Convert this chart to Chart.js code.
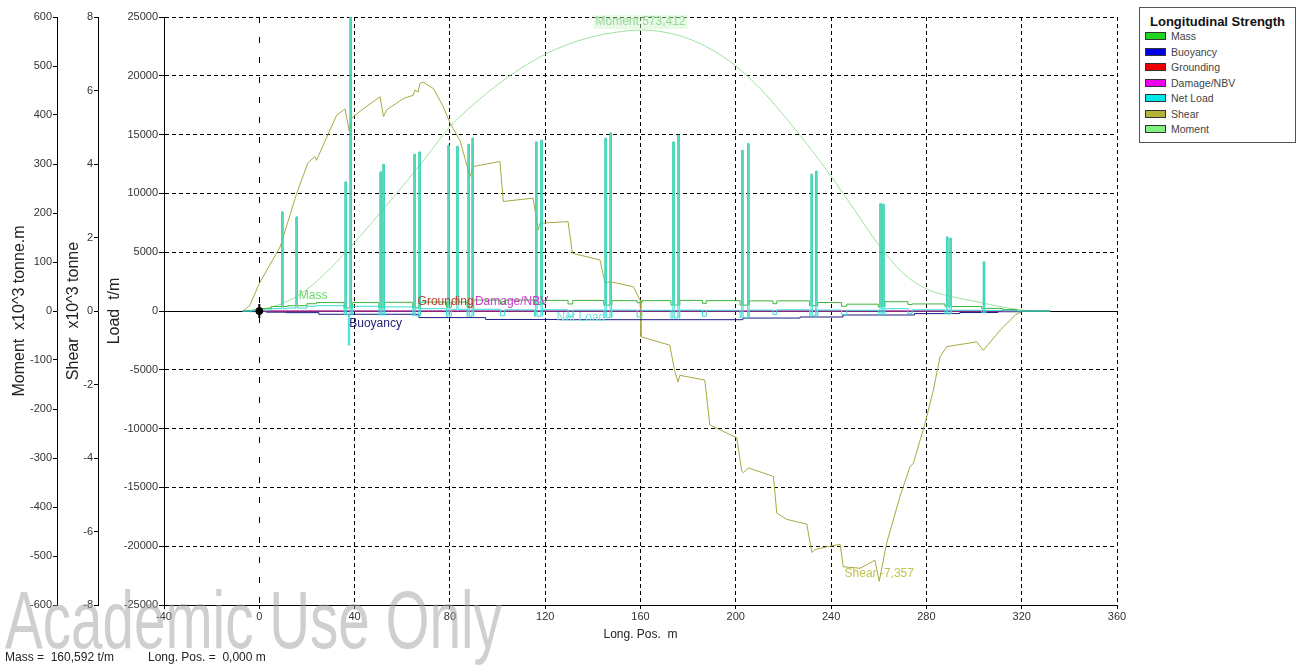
<!DOCTYPE html>
<html>
<head>
<meta charset="utf-8">
<title>Longitudinal Strength</title>
<script src="https://cdn.jsdelivr.net/npm/chart.js@4.4.1/dist/chart.umd.min.js"></script>
<style>
  body { margin: 0; background: #fff; overflow: hidden; }
  #wrap { position: relative; width: 1302px; height: 666px; font-family: "Liberation Sans", Arial, sans-serif; }
  #chart { position: absolute; left: 0; top: 0; }
  #legend { position: absolute; left: 1139px; top: 7px; width: 157px; height: 136px; border: 1px solid #555; background: #fff; box-sizing: border-box; }
  #legend .ttl { position: absolute; left: 10px; top: 6px; font-size: 13px; line-height: 15px; font-weight: bold; color: #111; white-space: nowrap; }
  #legend .sw { position: absolute; left: 5px; width: 19px; height: 6px; border: 1px solid #333; }
  #legend .lb { position: absolute; left: 31px; font-size: 10.5px; line-height: 12px; color: #444; white-space: nowrap; }
  .status { position: absolute; top: 650px; font-size: 12px; line-height: 14px; color: #222; white-space: pre; }
  #stamp { position: absolute; left: 5px; top: 579px; font-size: 82px; line-height: 82px; color: rgba(160,160,160,0.5); white-space: nowrap; transform: scaleX(0.69); transform-origin: 0 0; pointer-events: none; }
</style>
</head>
<body>
<div id="wrap">
  <canvas id="chart" width="1302" height="666"></canvas>
  <div id="legend"><div class="ttl">Longitudinal Strength</div></div>
  <div class="status" style="left:5px">Mass =  160,592 t/m</div>
  <div class="status" style="left:148px">Long. Pos. =  0,000 m</div>
  <div id="stamp">Academic Use Only</div>
</div>
<script>
const FONT = '"Liberation Sans", Arial, sans-serif';

// axis ticks
const posTicks = [-40, 0, 40, 80, 120, 160, 200, 240, 280, 320, 360];
const loadTicks = [-25000, -20000, -15000, -10000, -5000, 0, 5000, 10000, 15000, 20000, 25000];
const shearTicks = [-8, -6, -4, -2, 0, 2, 4, 6, 8];
const momentTicks = [-600, -500, -400, -300, -200, -100, 0, 100, 200, 300, 400, 500, 600];

// distributed load, step breaks along the hull (m); value holds until the next break
const stepX = [-7, -3, 1, 5, 12, 20, 24, 35.6, 39.2, 50.2, 52.6, 64.4, 67.6, 78.6, 80.6, 87.2, 90,
  101.2, 103, 115.5, 118.8, 129.6, 131.6, 144.6, 148, 158.6, 160.6, 172.8, 176.5, 186, 187.6,
  201.8, 205.6, 215.6, 217.2, 231, 234.4, 244.4, 246.6, 259.8, 262.6, 272.2, 274, 287.8, 290.6,
  303.2, 305, 312, 318, 332];
const massY = [0, 80, 200, 380, 450, 620, 720, 250, 720, 250, 740, 250, 760, 300, 760, 300, 930,
  600, 930, 550, 900, 600, 900, 500, 880, 700, 880, 500, 900, 650, 880,
  500, 860, 620, 860, 450, 720, 400, 580, 350, 790, 560, 600, 400, 380,
  200, 220, 120, 0, 0];
const netY = [0, 20, 80, 200, 250, 400, 450, -300, 400, -350, 350, -400, 200, -450, 150, -450, 150,
  -400, 100, -450, 100, -500, 80, -550, 80, -500, 60, -600, 80, -450, 60,
  -550, 80, -300, 100, -400, 80, -300, 60, -300, 200, -200, 100, -250, 60,
  -150, 40, 20, 0, 0];

// point loads (m, t/m)
const spikeX = [9.4, 15.4, 36.0, 38.1, 50.7, 51.9, 64.9, 67.0, 79.2, 82.9, 87.6, 89.3, 116.0, 118.2,
  145.1, 147.2, 173.6, 175.7, 202.5, 205.0, 231.6, 233.5, 260.5, 261.7, 288.5, 289.9, 303.9];
const spikeY = [8420, 7990, 10970, 25000, 11820, 12470, 13320, 13520, 14090, 14000, 14170, 14690,
  14370, 14510, 14690, 15140, 14370, 14940, 13660, 14230, 11620, 11880, 9130, 9070, 6290, 6180, 4170];
const netDipX = [37.4];
const netDipY = [-2900];

// buoyancy steps
const buoyX = [-7, -4, 3, 11, 25, 67, 95, 126, 203, 227, 245, 275, 294, 310, 320, 332];
const buoyY = [0, -50, -100, -140, -280, -560, -720, -740, -600, -510, -340, -220, -130, -60, 0, 0];

// grounding and damage/NBV lie on zero
const zeroX = [0, 318];
const zeroY = [0, 0];

// shear force, x10^3 tonne
const shearX = [-6.8, -4, 0, 8.7, 15.7, 20.4, 23.3, 24, 28.3, 32.5, 36.0, 36.4, 37.8, 38.8, 43.0,
  50.7, 52.1, 53.4, 60.4, 64.6, 65.3, 66.7, 67.4, 68.7, 73.1, 77.3, 80.1, 84.3, 88.4, 89.8, 101.0,
  102.4, 114.9, 117.1, 117.8, 129.6, 131.4, 143.0, 145.1, 147.2, 157, 159.8, 160.2, 172.3, 174.4,
  175.8, 176.5, 187.0, 189.1, 200.4, 202.5, 203.2, 205.3, 215.8, 217.2, 221.4, 229.8, 231.9, 233.3,
  239.4, 243.8, 245.1, 252.2, 258.4, 260.2, 263.3, 268.9, 273.1, 274.5, 279.4, 282.9, 285.7, 288.5,
  301.1, 303.9, 311.0, 317.5, 320.5, 332];
const shearY = [0, 0.15, 0.75, 1.74, 3.2, 4.03, 4.2, 4.1, 4.73, 5.33, 5.5, 5.35, 4.88, 5.25, 5.47,
  5.83, 5.29, 5.47, 5.78, 5.87, 6.01, 5.96, 6.19, 6.23, 6.05, 5.55, 5.11, 4.63, 3.66, 3.93, 4.07,
  2.98, 3.07, 2.2, 2.39, 2.43, 1.57, 1.39, 0.76, 0.8, 0.66, 0.3, -0.7, -0.93, -1.65,
  -1.93, -1.75, -1.88, -3.1, -3.45, -4.36, -4.4, -4.27, -4.5, -5.5, -5.67, -5.8, -6.57, -6.49,
  -6.4, -6.35, -6.96, -7.0, -6.78, -7.357, -6.32, -5.05, -4.24, -4.15, -3.06, -2.16, -1.25, -0.97,
  -0.84, -1.07, -0.52, -0.1, 0, 0];

// bending moment, x10^3 tonne.m
const momentX = [-7, 0, 10, 20, 30, 40, 50, 60, 70, 80, 90, 100, 110, 120, 130, 140, 150, 160, 170,
  180, 190, 200, 210, 220, 230, 240, 250, 260, 270, 280, 290, 300, 310, 320, 325];
const momentY = [0, 3, 16, 44, 88, 140, 196, 254, 314, 376, 422, 462, 496, 524, 545, 560, 569, 573.412, 569,
  556, 533, 500, 455, 400, 340, 275, 205, 135, 78, 45, 30, 20, 10, 2, 0];

const SPIKE_W = 0.55;

function pts(xs, ys) {
  return xs.map((x, i) => ({ x: x, y: ys[i] }));
}

function valueAt(points, x) {
  let v = points[0].y;
  for (const p of points) {
    if (p.x <= x) v = p.y; else break;
  }
  return v;
}

// stand each point load on the stepped distributed load as a narrow block
function withSpikes(base, xs, ys) {
  const out = base.slice();
  xs.forEach((x, i) => {
    out.push({ x: x, y: ys[i] }, { x: x + SPIKE_W, y: valueAt(base, x + SPIKE_W) });
  });
  return out.sort((a, b) => a.x - b.x);
}

const massPts = withSpikes(pts(stepX, massY), spikeX, spikeY);
const netPts = withSpikes(withSpikes(pts(stepX, netY), spikeX, spikeY), netDipX, netDipY);

const datasets = [
  { label: 'Mass', data: massPts, yAxisID: 'y', stepped: true, borderColor: '#3cb43c', backgroundColor: '#1fd51f', order: 1 },
  { label: 'Buoyancy', data: pts(buoyX, buoyY), yAxisID: 'y', stepped: true, borderColor: '#1c1c86', backgroundColor: '#0000e0', order: 4 },
  { label: 'Grounding', data: pts(zeroX, zeroY), yAxisID: 'y', borderColor: '#d02020', backgroundColor: '#ee0000', order: 3 },
  { label: 'Damage/NBV', data: pts(zeroX, zeroY), yAxisID: 'y', borderColor: '#a040e0', backgroundColor: '#ee00ee', order: 2 },
  { label: 'Net Load', data: netPts, yAxisID: 'y', stepped: true, borderColor: '#38dcd8', backgroundColor: '#00e8e8', order: 0 },
  { label: 'Shear', data: pts(shearX, shearY), yAxisID: 'yShear', borderColor: '#a8a840', backgroundColor: '#b4b438', order: 5 },
  { label: 'Moment', data: pts(momentX, momentY), yAxisID: 'yMoment', borderColor: '#9fe09f', backgroundColor: '#80f080', cubicInterpolationMode: 'monotone', order: 6 }
];
datasets.forEach(d => { d.borderWidth = 1; d.pointRadius = 0; d.fill = false; });

// cursor marker at the origin
datasets.push(
  { label: 'cursor', data: [{ x: 0, y: 0 }], yAxisID: 'y', showLine: false, pointStyle: 'circle', pointRadius: 3.5, backgroundColor: '#000', borderColor: '#000', order: -1 },
  { label: 'cursorTick', data: [{ x: 0, y: 0 }], yAxisID: 'y', showLine: false, pointStyle: 'line', rotation: 90, pointRadius: 7, borderWidth: 2, borderColor: '#000', order: -1 }
);

// names written next to the curves
const lineLabels = [
  { text: 'Mass', x: 22.6, y: 1300, color: '#6ad66a' },
  { text: 'Buoyancy', x: 48.8, y: -1100, color: '#22227a' },
  { text: 'Grounding', x: 78.2, y: 760, color: '#b4402c' },
  { text: 'Damage/NBV', x: 105.9, y: 760, color: '#c83cc8' },
  { text: 'Net Load', x: 135, y: -600, color: '#7ae4e4' }
];
const peakLabels = [
  { label: 'Moment', pick: 'max', color: '#9ad89a', bg: 'rgba(200,245,200,0.45)' },
  { label: 'Shear', pick: 'min', color: '#c2c24c', bg: null }
];

const curveText = {
  id: 'curveText',
  afterDatasetsDraw(chart) {
    const ctx = chart.ctx;
    const xs = chart.scales.x;
    ctx.save();
    ctx.font = '12px ' + FONT;
    ctx.textAlign = 'center';
    ctx.textBaseline = 'middle';
    lineLabels.forEach(l => {
      ctx.fillStyle = l.color;
      ctx.fillText(l.text, xs.getPixelForValue(l.x), chart.scales.y.getPixelForValue(l.y));
    });
    peakLabels.forEach(l => {
      const ds = chart.data.datasets.find(d => d.label === l.label);
      let best = ds.data[0];
      ds.data.forEach(p => {
        if (l.pick === 'max' ? p.y > best.y : p.y < best.y) best = p;
      });
      const ys = chart.scales[ds.yAxisID];
      const txt = l.label + ' ' + best.y.toFixed(3).replace('.', ',');
      const px = xs.getPixelForValue(best.x);
      const py = ys.getPixelForValue(best.y) - 8;
      if (l.bg) {
        const w = ctx.measureText(txt).width;
        ctx.fillStyle = l.bg;
        ctx.fillRect(px - w / 2 - 2, py - 7, w + 4, 14);
      }
      ctx.fillStyle = l.color;
      ctx.fillText(txt, px, py);
    });
    ctx.restore();
  }
};

function fixedTicks(list) {
  return scale => { scale.ticks = list.map(v => ({ value: v })); };
}

const tickFont = { family: FONT, size: 11 };
const titleFont = { family: FONT, size: 16 };

function sideAxis(list, width, weight, title, padTop) {
  return {
    type: 'linear',
    position: 'left',
    weight: weight,
    min: list[0],
    max: list[list.length - 1],
    afterBuildTicks: fixedTicks(list),
    afterFit: s => { s.width = width; },
    grid: { drawOnChartArea: false, drawTicks: true, tickLength: 4, color: '#000', tickColor: '#000' },
    border: { color: '#000', width: 1 },
    ticks: { font: tickFont, color: '#333', padding: 1, autoSkip: false, callback: v => String(v) },
    title: { display: true, text: title, font: titleFont, color: '#222', padding: { top: padTop, bottom: 0 } }
  };
}

const loadAxis = sideAxis(loadTicks, 66, 0, 'Load  t/m', 7);
loadAxis.grid = { drawOnChartArea: true, drawTicks: true, tickLength: 5, color: '#000', tickColor: '#000', tickBorderDash: [] };
loadAxis.border = { color: '#000', width: 1, dash: c => (c.type === 'tick' && c.tick.value !== 0) ? [4, 3] : [] };

const chart = new Chart(document.getElementById('chart'), {
  type: 'line',
  data: { datasets: datasets },
  options: {
    responsive: false,
    devicePixelRatio: 1,
    animation: false,
    layout: { padding: { left: 0, right: 185, top: 17, bottom: 24 } },
    plugins: { legend: { display: false }, tooltip: { enabled: false } },
    scales: {
      x: {
        type: 'linear',
        min: posTicks[0],
        max: posTicks[posTicks.length - 1],
        afterBuildTicks: fixedTicks(posTicks),
        afterFit: s => { s.height = 37; },
        grid: { color: '#000', tickLength: 4, tickColor: '#000', tickBorderDash: [] },
        border: { color: '#000', width: 1, dash: c => c.type !== 'tick' ? [] : (c.tick.value === 0 ? [6, 14] : [4, 3]) },
        ticks: { font: tickFont, color: '#333', padding: 1, maxRotation: 0, autoSkip: false, callback: v => String(v) },
        title: { display: true, text: 'Long. Pos.  m', font: { family: FONT, size: 12 }, color: '#222', padding: { top: 2, bottom: 0 } }
      },
      yMoment: sideAxis(momentTicks, 57, 2, 'Moment  x10^3 tonne.m', 10),
      yShear: sideAxis(shearTicks, 41, 1, 'Shear  x10^3 tonne', 7),
      y: loadAxis
    }
  },
  plugins: [curveText]
});

// legend box
const legendBox = document.getElementById('legend');
chart.data.datasets.filter(d => !d.label.startsWith('cursor')).forEach((d, i) => {
  const mid = 28 + i * 15.5;
  const sw = document.createElement('div');
  sw.className = 'sw';
  sw.style.top = (mid - 4) + 'px';
  sw.style.background = d.backgroundColor;
  const lb = document.createElement('div');
  lb.className = 'lb';
  lb.style.top = (mid - 6) + 'px';
  lb.textContent = d.label;
  legendBox.appendChild(sw);
  legendBox.appendChild(lb);
});
</script>
</body>
</html>
